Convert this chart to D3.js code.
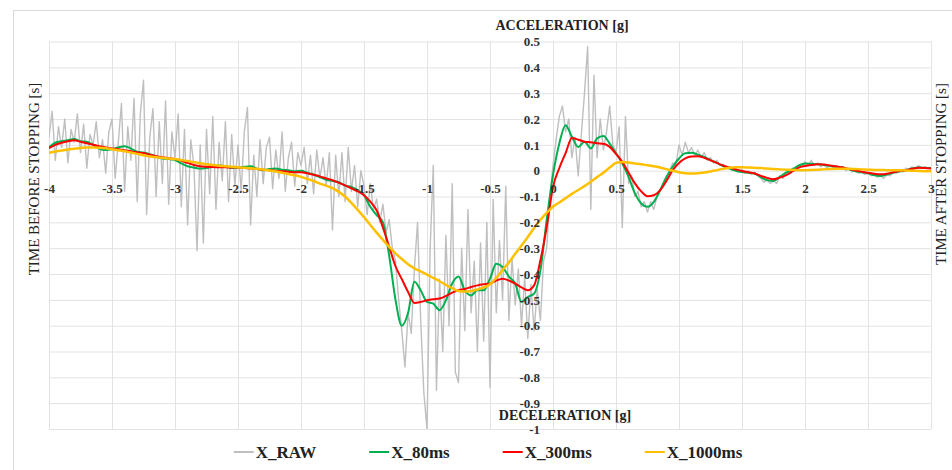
<!DOCTYPE html>
<html>
<head>
<meta charset="utf-8">
<script src="https://cdn.jsdelivr.net/npm/d3@7"></script>
<style>
  body { margin: 0; background: #fff; }
  svg { display: block; }
  .grid line { stroke: #e3e3e3; }
  .grid path, .labels path { display: none; }
  .labels text { font-family: "Liberation Serif", serif; font-weight: bold; font-size: 13px; fill: #333; }
  .title { font-family: "Liberation Serif", serif; fill: #222; }
</style>
</head>
<body>
<svg id="chart"></svg>
<script>
const chartSize = { width: 952, height: 470 };
const plot = { left: 49, right: 931, top: 41.5, bottom: 429 };

// x axis categories / ticks
const xTicks = [-4, -3.5, -3, -2.5, -2, -1.5, -1, -0.5, 0, 0.5, 1, 1.5, 2, 2.5, 3];
const xTickLabels = ["-4", "-3.5", "-3", "-2.5", "-2", "-1.5", "-1", "-0.5", "0", "0.5", "1", "1.5", "2", "2.5", "3"];
const yTicks = [0.5, 0.4, 0.3, 0.2, 0.1, 0, -0.1, -0.2, -0.3, -0.4, -0.5, -0.6, -0.7, -0.8, -0.9, -1];
const yTickLabels = ["0.5", "0.4", "0.3", "0.2", "0.1", "0", "-0.1", "-0.2", "-0.3", "-0.4", "-0.5", "-0.6", "-0.7", "-0.8", "-0.9", "-1"];

// time grids (s): raw every 25 ms, filtered series every 50 ms
const rawTime = d3.range(281).map(i => +(-4 + i * 0.025).toFixed(3));
const filtTime = d3.range(141).map(i => +(-4 + i * 0.05).toFixed(2));

const xRaw = [
  0.13, 0.23, 0.04, 0.17, 0.09, 0.2, 0.03, 0.16, 0.11, 0.22,
  0.07, 0.18, 0.01, 0.14, 0.1, 0.19, 0.05, 0.12, -0.01, 0.15,
  0.2, -0.03, 0.11, 0.26, -0.08, 0.17, 0.04, 0.28, -0.12, 0.22,
  0.35, -0.17, 0.13, 0.24, -0.1, 0.19, -0.05, 0.27, -0.13, 0.15,
  0.05, 0.22, -0.14, 0.16, -0.21, 0.12, 0.02, -0.31, 0.1, -0.28,
  0.16, -0.09, 0.21, -0.15, 0.11, -0.04, 0.19, -0.12, 0.14, -0.06,
  0.1, -0.08, 0.15, 0.245, -0.21, 0.06, -0.1, 0.12, -0.05, 0.09,
  0.13, -0.07, 0.08, -0.03, 0.15, -0.08, 0.05, 0.11, -0.06, 0.07,
  0.02, 0.09, -0.05, 0.06, -0.09, 0.08, -0.03, 0.05, -0.06, 0.07,
  -0.23, 0.06, -0.1, 0.07, -0.12, 0.09, -0.08, 0.02, -0.14, 0.0,
  -0.06, -0.17, -0.05, -0.15, -0.11, -0.2, -0.13, -0.24, -0.19, -0.3,
  -0.35, -0.5, -0.62, -0.76, -0.55, -0.63, -0.38, -0.2, -0.58, -0.86,
  -1.0, -0.3, 0.02, -0.85, -0.42, -0.7, -0.25, -0.6, -0.05, -0.78,
  -0.82, -0.3, -0.62, -0.15, -0.55, -0.35, -0.7, -0.28, -0.66, -0.2,
  -0.84, -0.11, -0.55, -0.27, -0.5, -0.06, -0.58, -0.34, -0.52, -0.38,
  -0.6, -0.41, -0.65, -0.44, -0.62, -0.46, -0.58, -0.35, -0.3, -0.1,
  0.02, 0.12, 0.21, 0.25, 0.15, 0.2, 0.05, 0.13, -0.02, 0.14,
  0.3, 0.48, -0.15, 0.37, 0.05, 0.2, 0.08, 0.15, 0.25, 0.1,
  0.07, 0.17, -0.22, 0.21, -0.05, -0.02, -0.1, -0.08, -0.14, -0.12,
  -0.16, -0.12, -0.15, -0.1, -0.08, -0.05, -0.03, 0.0, 0.03, 0.02,
  0.1, 0.06, 0.11, 0.07, 0.09, 0.06, 0.08, 0.05, 0.07, 0.04,
  0.05, 0.03, 0.04, 0.02, 0.025, 0.01, 0.015, 0.0, 0.01, -0.005,
  0.005, -0.01, 0.0, -0.015, -0.005, -0.02, -0.03, -0.045, -0.035, -0.05,
  -0.04, -0.05, -0.02, -0.03, -0.005, -0.01, 0.01, 0.0, 0.02, 0.015,
  0.035, 0.02, 0.04, 0.02, 0.03, 0.015, 0.025, 0.01, 0.02, 0.01,
  0.02, 0.005, 0.015, 0.0, 0.01, -0.005, 0.0, -0.01, -0.005, -0.015,
  -0.01, -0.02, -0.015, -0.025, -0.02, -0.03, -0.015, -0.02, -0.005, -0.01,
  0.0, -0.005, 0.01, 0.005, 0.015, 0.01, 0.02, 0.01, 0.015, 0.01,
  0.01
];

const x80ms = [
  0.090, 0.108, 0.114, 0.118, 0.123, 0.114, 0.112, 0.100, 0.085, 0.080,
  0.083, 0.090, 0.095, 0.085, 0.073, 0.070, 0.064, 0.055, 0.047, 0.045,
  0.041, 0.028, 0.017, 0.012, 0.008, 0.010, 0.015, 0.020, 0.017, 0.010,
  0.012, 0.015, 0.017, 0.008, 0.002, 0.006, 0.008, 0.004, 0.002, -0.002,
  0.000, -0.008, -0.015, -0.025, -0.035, -0.040, -0.045, -0.058, -0.063, -0.075,
  -0.095, -0.140, -0.172, -0.200, -0.330, -0.500, -0.600, -0.550, -0.430, -0.463,
  -0.508, -0.515, -0.540, -0.502, -0.437, -0.410, -0.463, -0.483, -0.463, -0.463,
  -0.418, -0.360, -0.373, -0.410, -0.437, -0.508, -0.489, -0.476, -0.386, -0.190,
  -0.017, 0.105, 0.176, 0.131, 0.092, 0.112, 0.086, 0.125, 0.134, 0.105,
  0.067, 0.028, -0.024, -0.088, -0.127, -0.140, -0.121, -0.076, -0.024, 0.015,
  0.047, 0.067, 0.069, 0.062, 0.053, 0.041, 0.030, 0.018, 0.008, 0.000,
  -0.005, -0.008, -0.011, -0.025, -0.037, -0.040, -0.024, -0.008, 0.005, 0.020,
  0.028, 0.027, 0.025, 0.022, 0.018, 0.015, 0.012, 0.005, -0.002, -0.006,
  -0.010, -0.018, -0.021, -0.015, -0.008, -0.003, 0.002, 0.008, 0.012, 0.011,
  0.010
];

const x300ms = [
  0.087, 0.100, 0.108, 0.114, 0.118, 0.112, 0.106, 0.100, 0.095, 0.090,
  0.086, 0.083, 0.079, 0.075, 0.071, 0.068, 0.062, 0.056, 0.052, 0.048,
  0.045, 0.038, 0.030, 0.022, 0.017, 0.015, 0.014, 0.013, 0.013, 0.012,
  0.012, 0.010, 0.008, 0.006, 0.004, 0.002, 0.000, -0.002, -0.004, -0.006,
  -0.006, -0.010, -0.016, -0.022, -0.030, -0.037, -0.047, -0.057, -0.068, -0.080,
  -0.095, -0.120, -0.153, -0.220, -0.295, -0.370, -0.420, -0.470, -0.512, -0.508,
  -0.502, -0.498, -0.495, -0.485, -0.472, -0.463, -0.458, -0.450, -0.444, -0.440,
  -0.437, -0.425, -0.418, -0.425, -0.437, -0.452, -0.463, -0.444, -0.347, -0.218,
  -0.063, 0.010, 0.068, 0.126, 0.120, 0.112, 0.110, 0.106, 0.104, 0.092,
  0.065, 0.034, -0.008, -0.049, -0.080, -0.099, -0.095, -0.076, -0.040, 0.002,
  0.030, 0.048, 0.055, 0.056, 0.050, 0.040, 0.030, 0.020, 0.012, 0.005,
  -0.001, -0.006, -0.011, -0.020, -0.028, -0.033, -0.027, -0.017, -0.003, 0.012,
  0.018, 0.022, 0.025, 0.024, 0.020, 0.016, 0.012, 0.006, 0.001, -0.004,
  -0.008, -0.012, -0.014, -0.012, -0.006, -0.001, 0.002, 0.007, 0.011, 0.010,
  0.008
];

const x1000ms = [
  0.069, 0.074, 0.078, 0.082, 0.085, 0.088, 0.090, 0.090, 0.089, 0.087,
  0.083, 0.079, 0.075, 0.070, 0.065, 0.060, 0.055, 0.052, 0.050, 0.047,
  0.045, 0.041, 0.037, 0.033, 0.029, 0.025, 0.022, 0.019, 0.017, 0.015,
  0.013, 0.011, 0.009, 0.007, 0.004, 0.001, -0.003, -0.008, -0.013, -0.018,
  -0.024, -0.032, -0.040, -0.050, -0.058, -0.068, -0.082, -0.100, -0.125, -0.152,
  -0.180, -0.210, -0.240, -0.268, -0.295, -0.320, -0.342, -0.362, -0.378, -0.390,
  -0.402, -0.415, -0.428, -0.442, -0.455, -0.466, -0.468, -0.466, -0.460, -0.452,
  -0.440, -0.415, -0.385, -0.355, -0.322, -0.290, -0.257, -0.222, -0.190, -0.163,
  -0.140, -0.123, -0.107, -0.090, -0.075, -0.060, -0.043, -0.025, -0.008, 0.012,
  0.030, 0.034, 0.032, 0.028, 0.025, 0.021, 0.017, 0.012, 0.006, 0.000,
  -0.006, -0.010, -0.011, -0.010, -0.007, -0.003, 0.002, 0.007, 0.011, 0.013,
  0.013, 0.012, 0.011, 0.010, 0.008, 0.006, 0.005, 0.004, 0.003, 0.002,
  0.002, 0.003, 0.004, 0.005, 0.006, 0.007, 0.007, 0.007, 0.006, 0.005,
  0.004, 0.003, 0.003, 0.002, 0.002, 0.002, 0.001, 0.000, -0.001, -0.002,
  -0.002
];

const seriesNames = ["X_RAW", "X_80ms", "X_300ms", "X_1000ms"];
const seriesColors = ["#bfbfbf", "#00b050", "#ff0000", "#ffc000"];

const series = [
  { name: seriesNames[0], color: seriesColors[0], width: 1.4, time: rawTime, values: xRaw, smooth: false },
  { name: seriesNames[1], color: seriesColors[1], width: 2, time: filtTime, values: x80ms, smooth: true },
  { name: seriesNames[2], color: seriesColors[2], width: 2, time: filtTime, values: x300ms, smooth: true },
  { name: seriesNames[3], color: seriesColors[3], width: 2.5, time: filtTime, values: x1000ms, smooth: true }
];

const x = d3.scaleLinear().domain([-4, 3]).range([plot.left, plot.right]);
const y = d3.scaleLinear().domain([-1, 0.5]).range([plot.bottom, plot.top]);

const svg = d3.select("#chart")
  .attr("width", chartSize.width)
  .attr("height", chartSize.height);

// outer chart frame
svg.append("rect")
  .attr("x", 13.5).attr("y", 10.5)
  .attr("width", 980).attr("height", 500)
  .attr("fill", "none")
  .attr("stroke", "#d9d9d9");

// gridlines
svg.append("g")
  .attr("class", "grid")
  .attr("transform", `translate(0,${plot.bottom})`)
  .call(d3.axisBottom(x).tickValues(xTicks).tickSize(-(plot.bottom - plot.top)).tickFormat(""));

svg.append("g")
  .attr("class", "grid")
  .attr("transform", `translate(${plot.left},0)`)
  .call(d3.axisLeft(y).tickValues(yTicks).tickSize(-(plot.right - plot.left)).tickFormat(""));

svg.append("clipPath").attr("id", "clip")
  .append("rect")
  .attr("x", plot.left).attr("y", plot.top - 2)
  .attr("width", plot.right - plot.left).attr("height", plot.bottom - plot.top + 2);

const lines = svg.append("g").attr("clip-path", "url(#clip)");

series.forEach(s => {
  const line = d3.line()
    .x((d, i) => x(s.time[i]))
    .y(d => y(d))
    .curve(s.smooth ? d3.curveMonotoneX : d3.curveLinear);
  lines.append("path")
    .attr("fill", "none")
    .attr("stroke", s.color)
    .attr("stroke-width", s.width)
    .attr("stroke-linejoin", "round")
    .attr("d", line(s.values));
});

// tick labels (drawn over the data, crossing at 0/0)
svg.append("g")
  .attr("class", "labels")
  .attr("transform", `translate(0,${y(0)})`)
  .call(d3.axisBottom(x).tickValues(xTicks).tickSize(0).tickPadding(13)
    .tickFormat((d, i) => xTickLabels[i]));

svg.append("g")
  .attr("class", "labels")
  .attr("transform", `translate(${x(0) - 1},0)`)
  .call(d3.axisLeft(y).tickValues(yTicks).tickSize(0).tickPadding(12)
    .tickFormat((d, i) => yTickLabels[i]));

// axis titles
svg.append("text")
  .attr("class", "title")
  .attr("x", 562).attr("y", 30)
  .attr("text-anchor", "middle")
  .style("font-size", "14px").style("font-weight", "bold")
  .text("ACCELERATION [g]");

svg.append("text")
  .attr("class", "title")
  .attr("x", 565).attr("y", 420)
  .attr("text-anchor", "middle")
  .style("font-size", "14px").style("font-weight", "bold")
  .text("DECELERATION [g]");

svg.append("text")
  .attr("class", "title")
  .attr("transform", "translate(39,179) rotate(-90)")
  .attr("text-anchor", "middle")
  .style("font-size", "15px")
  .text("TIME BEFORE STOPPING [s]");

svg.append("text")
  .attr("class", "title")
  .attr("transform", "translate(946,174) rotate(-90)")
  .attr("text-anchor", "middle")
  .style("font-size", "15px")
  .text("TIME AFTER STOPPING [s]");

// legend
const legend = svg.append("g");
let cursor = 0;
series.forEach(s => {
  const item = legend.append("g").attr("transform", `translate(${cursor},0)`);
  item.append("line")
    .attr("x1", 0).attr("x2", 20)
    .attr("y1", 0).attr("y2", 0)
    .attr("stroke", s.color)
    .attr("stroke-width", 2);
  const t = item.append("text")
    .attr("class", "title")
    .attr("x", 22).attr("y", 6)
    .style("font-size", "17px").style("font-weight", "bold")
    .text(s.name);
  cursor += 22 + t.node().getComputedTextLength() + 53;
});
const legendWidth = cursor - 53;
legend.attr("transform", `translate(${488 - legendWidth / 2},452)`);
</script>
</body>
</html>
